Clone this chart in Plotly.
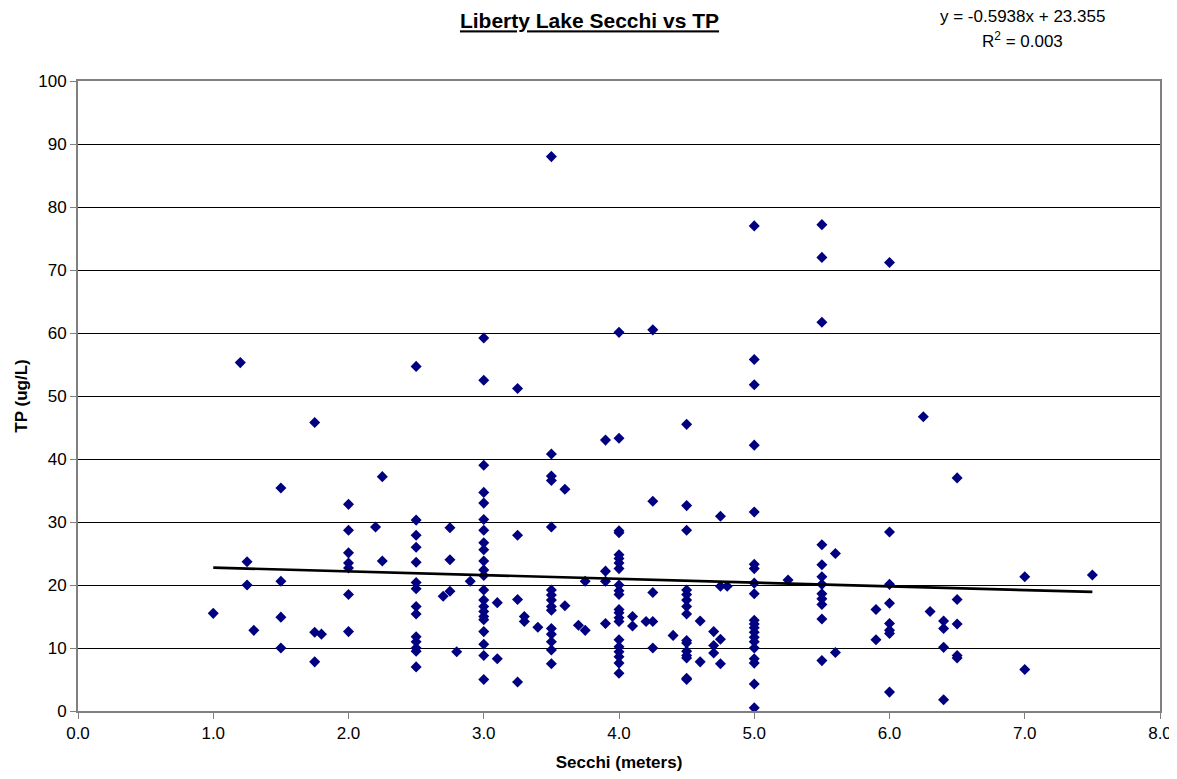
import plotly.graph_objects as go

# Secchi depth (m) columns and TP (ug/L) values
secchi_groups = [1.0, 1.2, 1.25, 1.3, 1.5, 1.75, 1.8, 2.0, 2.2, 2.25, 2.5, 2.7, 2.75, 2.8, 2.9,
                 3.0, 3.1, 3.25, 3.3, 3.4, 3.5, 3.6, 3.7, 3.75, 3.9, 4.0, 4.1, 4.2, 4.25, 4.4,
                 4.5, 4.6, 4.7, 4.75, 4.8, 5.0, 5.25, 5.5, 5.6, 5.9, 6.0, 6.25, 6.3, 6.4, 6.5,
                 7.0, 7.5]
tp_groups = [
    [15.5],
    [55.3],
    [23.7, 20.0],
    [12.8],
    [35.4, 20.6, 14.9, 10.0],
    [45.8, 12.5, 7.8],
    [12.2],
    [32.8, 28.7, 25.1, 23.5, 22.7, 18.5, 12.6],
    [29.2],
    [37.2, 23.8],
    [54.7, 30.3, 27.9, 26.0, 23.6, 20.4, 19.4, 16.6, 15.4, 11.8, 11.0, 10.0, 9.5, 7.0],
    [18.2],
    [29.1, 24.0, 19.0],
    [9.4],
    [20.6],
    [59.2, 52.5, 39.0, 34.7, 33.0, 30.4, 28.7, 26.7, 25.6, 23.8, 22.4, 21.5, 19.2, 17.6,
     16.6, 15.8, 15.0, 14.5, 12.6, 10.6, 8.8, 5.0],
    [17.2, 8.3],
    [51.2, 27.9, 17.7, 4.6],
    [15.0, 14.2],
    [13.3],
    [88.0, 40.8, 37.3, 36.6, 29.2, 19.2, 18.4, 17.6, 16.6, 16.0, 13.1, 12.2, 11.0, 9.7, 7.5],
    [35.2, 16.7],
    [13.6],
    [20.6, 12.8],
    [43.0, 22.2, 20.6, 13.9],
    [60.1, 43.3, 28.6, 28.3, 24.8, 24.2, 23.5, 22.6, 20.0, 19.1, 18.5, 16.1, 15.6, 14.8,
     14.2, 11.3, 10.2, 9.4, 8.6, 7.6, 6.0],
    [15.0, 13.5],
    [14.2],
    [60.5, 33.3, 18.8, 14.2, 10.0],
    [12.0],
    [45.5, 32.6, 28.7, 19.2, 18.5, 17.6, 16.6, 15.4, 11.2, 10.8, 9.5, 8.8, 8.4, 5.2, 5.0],
    [14.3, 7.8],
    [12.6, 10.4, 9.2],
    [30.9, 19.8, 11.4, 7.5],
    [19.8],
    [77.0, 55.8, 51.8, 42.2, 31.6, 23.3, 22.6, 20.3, 18.6, 14.4, 13.8, 13.2, 12.5, 11.7,
     11.0, 10.0, 8.3, 7.6, 4.3, 0.5],
    [20.8],
    [77.2, 72.0, 61.7, 26.4, 23.2, 21.3, 20.1, 18.6, 17.8, 16.9, 14.6, 8.0],
    [25.0, 9.3],
    [16.1, 11.3],
    [71.2, 28.4, 20.1, 17.1, 13.9, 12.8, 12.3, 3.0],
    [46.7],
    [15.8],
    [14.3, 13.1, 10.1, 1.8],
    [37.0, 17.7, 13.8, 8.8, 8.4],
    [21.3, 6.6],
    [21.6],
]

# Trendline coefficients as printed on the chart
slope = -0.5938
intercept = 23.355
r_squared = 0.003
trend_x = [1.0, 7.5]

secchi = []
tp = []
for xv, vals in zip(secchi_groups, tp_groups):
    for v in vals:
        secchi.append(xv)
        tp.append(v)

trend_y = [slope * xv + intercept for xv in trend_x]

FONT = "Liberation Sans, Arial, sans-serif"

# figure sits 8px in from the page corner (default body margin)
W, H = 1169, 771
ML, MR, MT, MB = 70, 17, 73, 68
PW = W - ML - MR
PH = H - MT - MB


def px(fx):
    return (fx - ML) / PW


def py(fy):
    return (H - MB - fy) / PH


fig = go.Figure()
fig.add_trace(go.Scatter(
    x=secchi, y=tp, mode="markers",
    marker=dict(symbol="diamond", color="#000080", size=8.5, line=dict(width=0)),
    showlegend=False, cliponaxis=False,
))
fig.add_trace(go.Scatter(
    x=trend_x, y=trend_y, mode="lines",
    line=dict(color="black", width=2.7),
    showlegend=False,
))

fig.update_layout(
    width=W, height=H,
    margin=dict(l=ML, r=MR, t=MT, b=MB, autoexpand=False),
    paper_bgcolor="white", plot_bgcolor="white",
    font=dict(family=FONT, size=17, color="black"),
    title=dict(
        text="<b><u>Liberty Lake Secchi vs TP</u></b>",
        x=581.5 / W, xanchor="center", y=1 - 13 / H, yanchor="middle",
        font=dict(size=21, family=FONT),
    ),
    xaxis=dict(
        range=[0, 8], tick0=0, dtick=1, tickformat=".1f",
        showgrid=False, zeroline=False, automargin=False,
        showline=True, linecolor="#808080", linewidth=2, mirror=True,
        ticks="outside", ticklen=6, tickcolor="#808080",
        title=dict(text="<b>Secchi (meters)</b>", font=dict(size=17), standoff=14),
        tickfont=dict(size=17),
    ),
    yaxis=dict(
        range=[0, 100], tick0=0, dtick=10,
        showgrid=True, gridcolor="black", gridwidth=1, zeroline=False, automargin=False,
        showline=True, linecolor="#808080", linewidth=2, mirror=True,
        ticks="outside", ticklen=6, tickcolor="#808080",
        title=dict(text="<b>TP (ug/L)</b>", font=dict(size=17), standoff=6),
        tickfont=dict(size=17),
    ),
    annotations=[
        dict(text=f"y = {slope}x + {intercept}", x=px(1014), y=py(9),
             xref="paper", yref="paper", showarrow=False, xanchor="center", yanchor="middle",
             font=dict(size=17, family=FONT)),
        dict(text=f"R<sup>2</sup> = {r_squared}", x=px(1014), y=py(32),
             xref="paper", yref="paper", showarrow=False, xanchor="center", yanchor="middle",
             font=dict(size=17, family=FONT)),
    ],
)

fig.write_html("out.html")
